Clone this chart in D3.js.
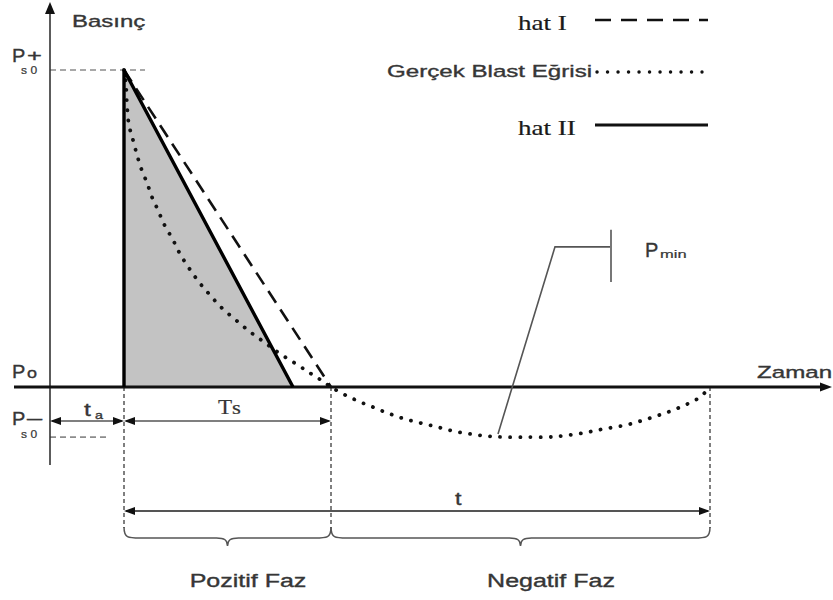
<!DOCTYPE html>
<html><head><meta charset="utf-8">
<script src="https://cdn.jsdelivr.net/npm/d3@7"></script>
<style>html,body{margin:0;padding:0;background:#fff;} svg{display:block;}</style>
</head><body><svg id="c" width="833" height="600"></svg>
<script>
// ---- data (time in arbitrary units, pressure as % of peak overpressure) ----
const blastT = [7.4,7.6,7.7,7.9,8.3,8.7,9.1,9.7,10.2,10.8,11.4,12.3,13.0,13.9,14.9,16.0,17.2,18.6,20.0,21.4,22.9,24.6,26.0,27.1,28.1,
                29.5,31.0,32.5,34.0,35.5,37.1,38.7,40.3,42.0,43.7,45.4,47.7,49.9,51.0,53.3,55.4,57.6,59.7,61.8,63.7,65.0,66.0];
const blastP = [100,95.3,89.0,82.6,77.9,73.2,69.1,64.4,59.9,55.8,51.4,46.4,42.0,37.5,33.1,29.0,24.9,21.1,17.4,14.2,10.7,7.3,4.4,2.2,0,
                -2.5,-4.7,-6.6,-8.5,-10.1,-11.4,-12.6,-13.9,-14.8,-15.5,-15.8,-15.8,-15.8,-15.5,-14.5,-13.2,-12.0,-10.1,-7.9,-5.4,-3.2,0];
const hatIT = [7.4, 28.1];
const hatIP = [100, 0];
const hatIIT = [7.4, 24.3];
const hatIIP = [100, 0];
const phaseT = [7.4, 28.1, 66.0];        // arrival ta, end of positive phase, end of negative phase
const peakP = [100, -15.8];              // Ps0+, Ps0-
const legendLabels = ["hat I", "Gerçek Blast Eğrisi", "hat II"];
const phaseLabels = ["Pozitif Faz", "Negatif Faz"];
const axisLabels = ["Basınç", "Zaman"];

// ---- scales ----
const x = d3.scaleLinear().domain([0, 78]).range([50, 830]);
const y = d3.scaleLinear().domain([0, 100]).range([387, 70]);

const svg = d3.select("#c");
const SANS = "'Liberation Sans', Arial, sans-serif";
const SERIF = "'Liberation Serif', 'Times New Roman', serif";
const TXT = "#363636";

function txt(s, px, py, o) {
  o = o || {};
  const f = o.fill || TXT;
  return svg.append("text")
    .attr("transform", `translate(${px},${py}) scale(${o.sx || 1},1)`)
    .attr("font-family", o.family || SANS)
    .attr("font-size", o.size || 17)
    .attr("fill", f)
    .attr("stroke", f)
    .attr("stroke-width", o.sw === undefined ? 0.35 : o.sw)
    .attr("text-anchor", o.anchor || "start")
    .attr("letter-spacing", o.ls || 0)
    .text(s);
}
function head(tx, ty, dir, len, w, fill) {
  len = len || 11; w = w || 8;
  let p;
  if (dir === "right") p = `M${tx},${ty}L${tx-len},${ty-w/2}L${tx-len},${ty+w/2}Z`;
  if (dir === "left")  p = `M${tx},${ty}L${tx+len},${ty-w/2}L${tx+len},${ty+w/2}Z`;
  if (dir === "up")    p = `M${tx},${ty}L${tx-w/2},${ty+len}L${tx+w/2},${ty+len}Z`;
  svg.append("path").attr("d", p).attr("fill", fill || "#111");
}
const line = d3.line().x(d => x(d[0])).y(d => y(d[1]));

// ---- shaded triangle (hat II area) ----
svg.append("path")
  .attr("d", line([[hatIIT[0], 0], [hatIIT[0], hatIIP[0]], [hatIIT[1], hatIIP[1]]]) + "Z")
  .attr("fill", "#c3c3c3");

// ---- guide dashes ----
svg.append("line").attr("x1", x(0)).attr("x2", x(9.5)).attr("y1", y(peakP[0])).attr("y2", y(peakP[0]))
  .attr("stroke", "#8c8c8c").attr("stroke-width", 1.6).attr("stroke-dasharray", "6,4");
svg.append("line").attr("x1", x(0)).attr("x2", x(5.8)).attr("y1", y(peakP[1])).attr("y2", y(peakP[1]))
  .attr("stroke", "#8c8c8c").attr("stroke-width", 1.6).attr("stroke-dasharray", "6,4");
phaseT.forEach(t => {
  svg.append("line").attr("x1", x(t)).attr("x2", x(t)).attr("y1", y(0)).attr("y2", 528)
    .attr("stroke", "#555").attr("stroke-width", 1.5).attr("stroke-dasharray", "4,3");
});

// ---- axes ----
svg.append("line").attr("x1", x(0)).attr("x2", x(0)).attr("y1", y(-24.6)).attr("y2", 12)
  .attr("stroke", "#333").attr("stroke-width", 1.6);
head(x(0), 2, "up", 12, 10);
svg.append("line").attr("x1", x(-3.6)).attr("x2", 822).attr("y1", y(0)).attr("y2", y(0))
  .attr("stroke", "#111").attr("stroke-width", 2.8);
head(832, y(0), "right", 12, 9);

// ---- hat I (dashed) ----
svg.append("path").attr("d", line(hatIT.map((t, i) => [t, hatIP[i]])))
  .attr("fill", "none").attr("stroke", "#111").attr("stroke-width", 2.6).attr("stroke-dasharray", "14,8");

// ---- real blast curve (dotted) ----
svg.append("path")
  .attr("d", d3.line().curve(d3.curveCatmullRom).x(d => x(d[0])).y(d => y(d[1]))(blastT.map((t, i) => [t, blastP[i]])))
  .attr("fill", "none").attr("stroke", "#111").attr("stroke-width", 3.8)
  .attr("stroke-linecap", "round").attr("stroke-dasharray", "0.1,10");

// ---- hat II (solid) + vertical rise ----
svg.append("path").attr("d", line([[hatIIT[0], 0], [hatIIT[0], hatIIP[0]], [hatIIT[1], hatIIP[1]]]))
  .attr("fill", "none").attr("stroke", "#000").attr("stroke-width", 3.4).attr("stroke-linejoin", "miter");

// ---- dimension arrows ----
function dim(t1, t2, py, sw) {
  svg.append("line").attr("x1", x(t1) + 2).attr("x2", x(t2) - 2).attr("y1", py).attr("y2", py)
    .attr("stroke", "#555").attr("stroke-width", sw || 1.5);
  head(x(t1), py, "left");
  head(x(t2), py, "right");
}
dim(0, phaseT[0], 421);
dim(phaseT[0], phaseT[1], 421);
dim(phaseT[0], phaseT[2], 511, 2);

// ---- braces ----
function brace(x1, x2, yTop) {
  const xm = (x1 + x2) / 2, ym = yTop + 11, yt = yTop + 19, r = 16, r2 = 11;
  const p = `M${x1},${yTop} C${x1},${ym} ${x1+4},${ym} ${x1+r},${ym} L${xm-r2},${ym} C${xm-3},${ym} ${xm},${ym+2} ${xm},${yt}` +
            ` C${xm},${ym+2} ${xm+3},${ym} ${xm+r2},${ym} L${x2-r},${ym} C${x2-4},${ym} ${x2},${ym} ${x2},${yTop}`;
  svg.append("path").attr("d", p).attr("fill", "none").attr("stroke", "#555").attr("stroke-width", 1.5);
}
brace(x(phaseT[0]), x(phaseT[1]), 527);
brace(x(phaseT[1]), x(phaseT[2]), 527);

// ---- Pmin leader ----
svg.append("path").attr("d", line([[44.8, -14.8], [50.5, 44.2], [56.1, 44.2]]))
  .attr("fill", "none").attr("stroke", "#555").attr("stroke-width", 1.6);
svg.append("line").attr("x1", x(56.1)).attr("x2", x(56.1)).attr("y1", y(49.6)).attr("y2", y(33.1))
  .attr("stroke", "#777").attr("stroke-width", 2);

// ---- legend ----
const legY = [20, 72, 125];
svg.append("line").attr("x1", 595).attr("x2", 708).attr("y1", legY[0]).attr("y2", legY[0])
  .attr("stroke", "#111").attr("stroke-width", 2.6).attr("stroke-dasharray", "16,10");
svg.append("line").attr("x1", 597).attr("x2", 702).attr("y1", legY[1]).attr("y2", legY[1])
  .attr("stroke", "#111").attr("stroke-width", 3.4).attr("stroke-linecap", "round").attr("stroke-dasharray", "0.1,10.4");
svg.append("line").attr("x1", 595).attr("x2", 708).attr("y1", legY[2]).attr("y2", legY[2])
  .attr("stroke", "#111").attr("stroke-width", 2.8);
txt(legendLabels[0], 518, 30, {family: SERIF, size: 22, sx: 1.23, fill: "#1a1a1a", sw: 0.2});
txt(legendLabels[1], 387, 77, {size: 17, sx: 1.42});
txt(legendLabels[2], 518, 135, {family: SERIF, size: 22, sx: 1.23, fill: "#1a1a1a", sw: 0.2});

// ---- axis / annotation text ----
txt(axisLabels[0], 72, 27, {size: 17, sx: 1.41});
txt(axisLabels[1], 757, 378, {size: 17, sx: 1.42});
// Ps0+
txt("P", 12, 62, {size: 19, sx: 1.05});
txt("+", 27, 61, {size: 17, sx: 1.5});
txt("s0", 21, 74, {size: 10, sx: 1.2, ls: 3, sw: 0.2});
// Po
txt("P", 12, 378, {size: 19, sx: 1.05});
txt("o", 27, 378, {size: 15, sx: 1.2});
// Ps0-
txt("P", 12, 425, {size: 19, sx: 1.05});
txt("\u2013", 27, 424, {size: 17, sx: 1.6});
txt("s0", 21, 438, {size: 10, sx: 1.2, ls: 3, sw: 0.2});
// ta
txt("t", 84, 416, {size: 19, sx: 1.3});
txt("a", 95, 419, {size: 11, sx: 1.3});
// Ts
txt("T", 218, 414, {family: SERIF, size: 22, sx: 1.05, sw: 0.2});
txt("s", 232, 414, {family: SERIF, size: 19, sx: 1.2, sw: 0.2});
// t
txt("t", 455, 505, {size: 18, sx: 1.3});
// Pmin
txt("P", 645, 257, {size: 20});
txt("min", 660, 258, {size: 11, sx: 1.5, sw: 0.2});
// phases
txt(phaseLabels[0], 248, 587, {size: 18, sx: 1.39, anchor: "middle"});
txt(phaseLabels[1], 551, 587, {size: 18, sx: 1.39, anchor: "middle"});
</script></body></html>
